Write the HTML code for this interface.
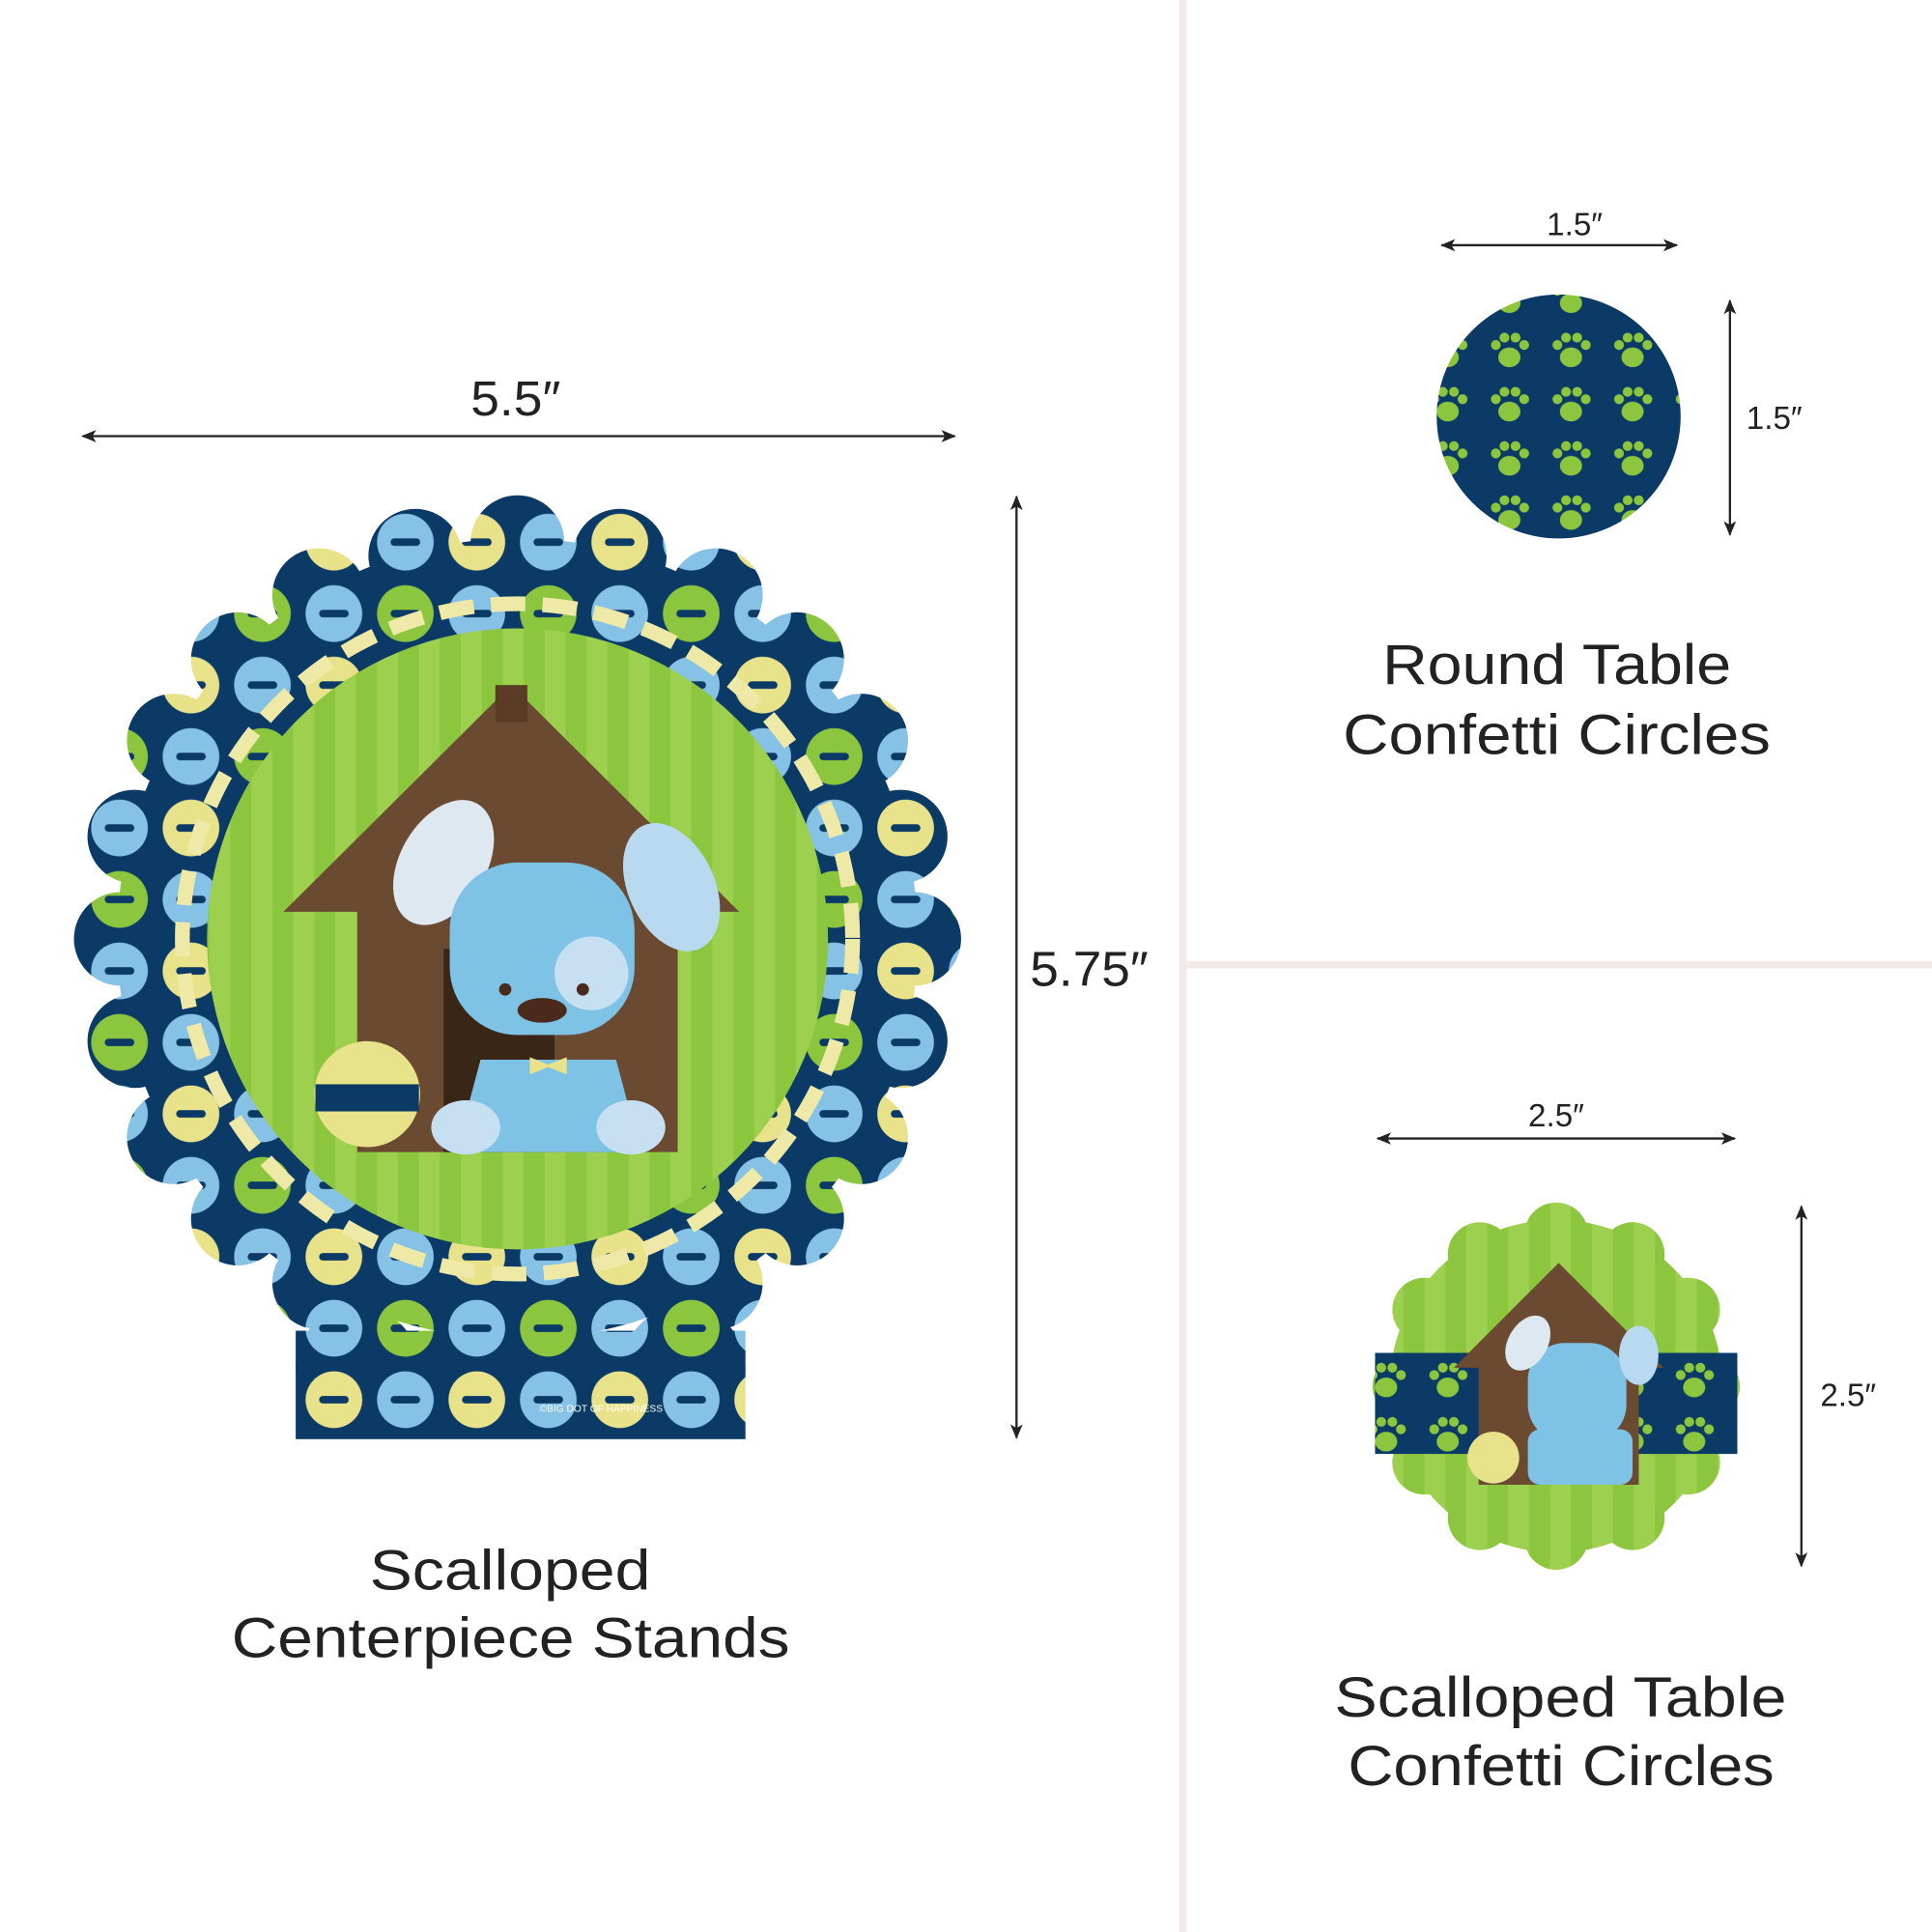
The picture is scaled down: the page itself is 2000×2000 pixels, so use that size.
<!DOCTYPE html>
<html><head><meta charset="utf-8"><style>
html,body{margin:0;padding:0;background:#fff;}
svg{display:block;}
text{font-family:"Liberation Sans",sans-serif;fill:#222;}
</style></head><body>
<svg width="2000" height="2000" viewBox="0 0 1568 1568" xmlns="http://www.w3.org/2000/svg">
<defs>
<pattern id="dots" width="116" height="116" patternUnits="userSpaceOnUse" x="10" y="5">
<rect width="116" height="116" fill="#0b3a66"/>
<circle cx="29" cy="29" r="23" fill="#86c2e6"/>
<circle cx="87" cy="29" r="23" fill="#8cc63f"/>
<circle cx="29" cy="87" r="23" fill="#e8e28a"/>
<circle cx="87" cy="87" r="23" fill="#86c2e6"/>
<rect x="17" y="26" width="24" height="6" rx="3" fill="#0b3a66"/>
<rect x="75" y="26" width="24" height="6" rx="3" fill="#0b3a66"/>
<rect x="17" y="84" width="24" height="6" rx="3" fill="#0b3a66"/>
<rect x="75" y="84" width="24" height="6" rx="3" fill="#0b3a66"/>
</pattern>
<pattern id="stripes" width="34" height="34" patternUnits="userSpaceOnUse">
<rect width="34" height="34" fill="#8cc63f"/><rect width="17" height="34" fill="#9dd04e"/>
</pattern>
<pattern id="paws" width="50" height="44" patternUnits="userSpaceOnUse">
<rect width="50" height="44" fill="#0b3a66"/>
<ellipse cx="25" cy="26" rx="9" ry="8" fill="#8cc63f"/>
<circle cx="14" cy="16" r="4" fill="#8cc63f"/><circle cx="21" cy="10" r="4" fill="#8cc63f"/>
<circle cx="30" cy="10" r="4" fill="#8cc63f"/><circle cx="37" cy="16" r="4" fill="#8cc63f"/>
</pattern>
<marker id="ah" markerWidth="12" markerHeight="10" refX="11" refY="5" orient="auto-start-reverse" markerUnits="userSpaceOnUse">
<path d="M0,0 L12,5 L0,10 L3,5 z" fill="#222"/></marker>
</defs>

<rect x="957" y="0" width="6" height="1568" fill="#f3e9ea"/>
<rect x="963" y="780" width="605" height="6" fill="#f3e9ea"/>

<line x1="67" y1="354" x2="775" y2="354" stroke="#222" stroke-width="1.8" marker-start="url(#ah)" marker-end="url(#ah)"/>
<text x="382" y="337" font-size="40" textLength="73" lengthAdjust="spacingAndGlyphs">5.5″</text>
<line x1="825" y1="403" x2="825" y2="1167" stroke="#222" stroke-width="1.8" marker-start="url(#ah)" marker-end="url(#ah)"/>
<text x="836" y="800" font-size="40" textLength="96" lengthAdjust="spacingAndGlyphs">5.75″</text>

<g fill="url(#dots)">
<circle cx="420" cy="762" r="325"/>
<rect x="240" y="1080" width="365" height="88"/>
<circle cx="290" cy="1110" r="50"/><circle cx="555" cy="1110" r="50"/>
<circle cx="420" cy="440" r="38"/><circle cx="503" cy="451" r="38"/><circle cx="581" cy="483" r="38"/>
<circle cx="647" cy="535" r="38"/><circle cx="699" cy="601" r="38"/><circle cx="731" cy="679" r="38"/>
<circle cx="742" cy="762" r="38"/><circle cx="731" cy="845" r="38"/><circle cx="699" cy="923" r="38"/>
<circle cx="647" cy="989" r="38"/><circle cx="581" cy="1041" r="38"/>
<circle cx="337" cy="451" r="38"/><circle cx="259" cy="483" r="38"/><circle cx="193" cy="535" r="38"/>
<circle cx="141" cy="601" r="38"/><circle cx="109" cy="679" r="38"/><circle cx="98" cy="762" r="38"/>
<circle cx="109" cy="845" r="38"/><circle cx="141" cy="923" r="38"/><circle cx="193" cy="989" r="38"/>
<circle cx="259" cy="1041" r="38"/>
</g>
<circle cx="420" cy="762" r="272" fill="none" stroke="#efe9a8" stroke-width="12" stroke-dasharray="28 14"/>
<circle cx="420" cy="762" r="252" fill="url(#stripes)"/>
<polygon points="415,556 230,740 290,740 290,935 550,935 550,740 600,740" fill="#6b4a32"/>
<rect x="402" y="556" width="26" height="30" fill="#5a3b26"/>
<rect x="360" y="770" width="90" height="165" fill="#3a2616"/>
<ellipse cx="360" cy="700" rx="35" ry="55" fill="#dde8f0" transform="rotate(30 360 700)"/>
<ellipse cx="545" cy="720" rx="35" ry="55" fill="#b9d9f0" transform="rotate(-25 545 720)"/>
<rect x="365" y="700" width="150" height="140" rx="55" fill="#7ec2e6"/>
<circle cx="480" cy="790" r="30" fill="#c6e0f2"/>
<ellipse cx="440" cy="820" rx="20" ry="10" fill="#4a2a1a"/>
<circle cx="410" cy="803" r="5" fill="#4a2a1a"/><circle cx="473" cy="803" r="5" fill="#4a2a1a"/>
<path d="M390,860 L500,860 L520,935 L370,935 z" fill="#7ec2e6"/>
<ellipse cx="378" cy="915" rx="28" ry="22" fill="#c6e0f2"/>
<ellipse cx="512" cy="915" rx="28" ry="22" fill="#c6e0f2"/>
<path d="M430,858 l15,6 l15,-6 v14 l-15,-6 l-15,6z" fill="#e8e28a"/>
<circle cx="298" cy="888" r="43" fill="#e8e28a"/>
<rect x="256" y="880" width="84" height="22" fill="#0b3a66"/>
<text x="438" y="1146" font-size="8" style="fill:#fff">©BIG DOT OF HAPPINESS</text>

<text x="300" y="1290" font-size="46" textLength="228" lengthAdjust="spacingAndGlyphs">Scalloped</text>
<text x="188" y="1345" font-size="46" textLength="453" lengthAdjust="spacingAndGlyphs">Centerpiece Stands</text>

<line x1="1170" y1="199" x2="1361" y2="199" stroke="#222" stroke-width="1.8" marker-start="url(#ah)" marker-end="url(#ah)"/>
<text x="1278" y="191" font-size="26" text-anchor="middle">1.5″</text>
<line x1="1404" y1="244" x2="1404" y2="434" stroke="#222" stroke-width="1.8" marker-start="url(#ah)" marker-end="url(#ah)"/>
<text x="1440" y="348" font-size="26" text-anchor="middle">1.5″</text>
<circle cx="1265" cy="338" r="99" fill="url(#paws)"/>
<text x="1122" y="555" font-size="46" textLength="283" lengthAdjust="spacingAndGlyphs">Round Table</text>
<text x="1090" y="612" font-size="46" textLength="347" lengthAdjust="spacingAndGlyphs">Confetti Circles</text>

<line x1="1118" y1="924" x2="1408" y2="924" stroke="#222" stroke-width="1.8" marker-start="url(#ah)" marker-end="url(#ah)"/>
<text x="1263" y="914" font-size="26" text-anchor="middle">2.5″</text>
<line x1="1462" y1="979" x2="1462" y2="1271" stroke="#222" stroke-width="1.8" marker-start="url(#ah)" marker-end="url(#ah)"/>
<text x="1500" y="1141" font-size="26" text-anchor="middle">2.5″</text>
<g fill="url(#stripes)">
<circle cx="1263" cy="1125" r="135"/>
<circle cx="1263" cy="1002" r="26"/><circle cx="1325" cy="1018" r="26"/><circle cx="1370" cy="1063" r="26"/>
<circle cx="1386" cy="1125" r="26"/><circle cx="1370" cy="1187" r="26"/><circle cx="1325" cy="1232" r="26"/>
<circle cx="1263" cy="1248" r="26"/><circle cx="1201" cy="1232" r="26"/><circle cx="1156" cy="1187" r="26"/>
<circle cx="1140" cy="1125" r="26"/><circle cx="1156" cy="1063" r="26"/><circle cx="1201" cy="1018" r="26"/>
</g>
<rect x="1116" y="1098" width="294" height="82" fill="url(#paws)"/>
<polygon points="1265,1025 1180,1110 1200,1110 1200,1205 1330,1205 1330,1110 1350,1110" fill="#6b4a32"/>
<rect x="1240" y="1090" width="80" height="80" rx="30" fill="#7ec2e6"/>
<ellipse cx="1240" cy="1090" rx="16" ry="24" fill="#dde8f0" transform="rotate(30 1240 1090)"/>
<ellipse cx="1330" cy="1100" rx="16" ry="24" fill="#b9d9f0"/>
<rect x="1240" y="1160" width="85" height="45" rx="10" fill="#7ec2e6"/>
<circle cx="1212" cy="1183" r="21" fill="#e8e28a"/>
<text x="1083" y="1393" font-size="46" textLength="367" lengthAdjust="spacingAndGlyphs">Scalloped Table</text>
<text x="1094" y="1449" font-size="46" textLength="346" lengthAdjust="spacingAndGlyphs">Confetti Circles</text>
</svg>
</body></html>
